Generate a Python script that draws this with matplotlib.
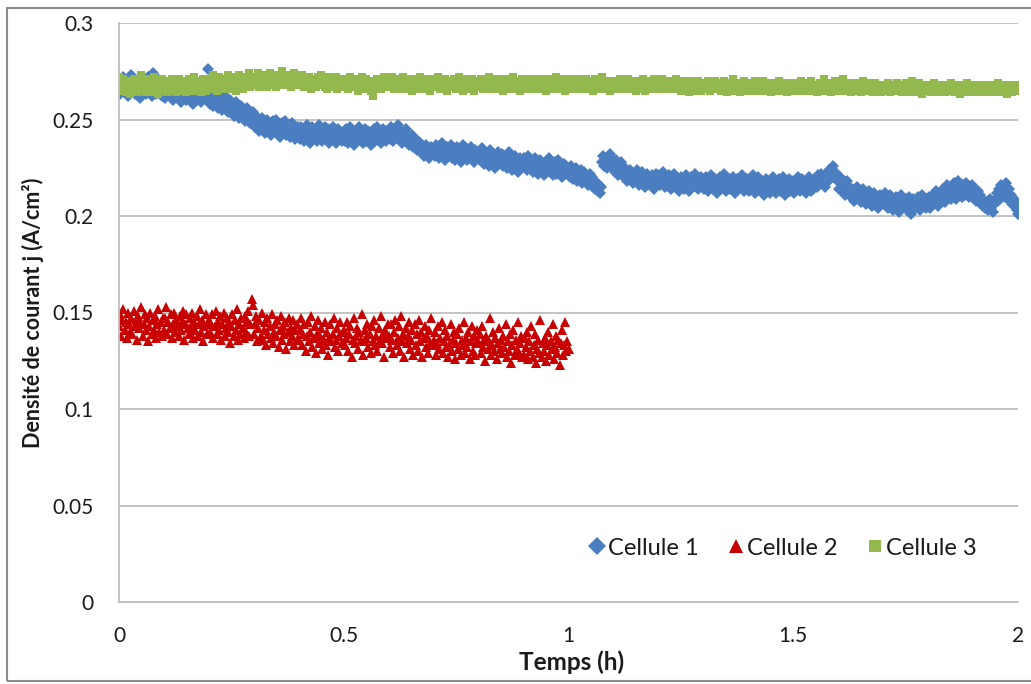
import numpy as np
import matplotlib
matplotlib.use("Agg")
import matplotlib.pyplot as plt
from matplotlib.patches import Rectangle

plt.rcParams['font.family'] = ['Lato', 'DejaVu Sans']

# Sampling step of the logger (h)
DT = 0.0025

# Current density, in mA/cm2, one reading every DT hours (40 readings per 0.1 h row)
cellule_1 = [
    267, 263, 270, 265, 272, 268, 264, 269, 262, 266, 271, 273, 265, 268, 263, 267, 270, 264, 268, 261,
    266, 270, 265, 269, 263, 267, 272, 264, 268, 262, 274, 266, 269, 263, 267, 271, 264, 266, 262, 268,
    265, 261, 268, 263, 266, 270, 262, 264, 260, 267, 263, 265, 269, 261, 264, 259, 266, 262, 268, 263,
    260, 265, 262, 267, 261, 264, 258, 263, 266, 260, 264, 261, 266, 259, 263, 267, 261, 264, 260, 276,
    262, 258, 264, 260, 257, 262, 259, 263, 256, 260, 258, 261, 255, 259, 262, 256, 258, 254, 257, 260,
    254, 257, 252, 256, 259, 253, 255, 251, 254, 257, 251, 254, 249, 253, 256, 250, 252, 248, 251, 254,
    249, 246, 252, 247, 250, 244, 248, 251, 245, 249, 243, 247, 250, 245, 248, 242, 246, 249, 244, 247,
    250, 244, 246, 241, 245, 248, 243, 246, 249, 242, 245, 247, 241, 244, 248, 242, 246, 240, 243, 246,
    244, 240, 246, 242, 245, 239, 243, 247, 241, 244, 238, 242, 246, 240, 243, 245, 239, 242, 247, 241,
    244, 239, 243, 246, 240, 242, 245, 238, 243, 241, 246, 240, 243, 238, 242, 245, 240, 243, 239, 242,
    243, 239, 245, 241, 238, 242, 246, 240, 243, 237, 241, 244, 239, 242, 246, 240, 243, 238, 241, 245,
    239, 242, 244, 240, 237, 243, 241, 245, 239, 242, 246, 240, 243, 238, 242, 245, 240, 244, 239, 241,
    244, 240, 246, 242, 239, 245, 241, 243, 247, 240, 244, 241, 238, 243, 240, 245, 239, 242, 237, 241,
    238, 242, 236, 240, 237, 234, 239, 235, 238, 233, 236, 231, 234, 237, 232, 235, 230, 233, 236, 232,
    235, 231, 237, 233, 236, 230, 234, 238, 232, 235, 229, 233, 236, 231, 234, 237, 230, 233, 235, 229,
    232, 236, 231, 234, 228, 233, 237, 230, 232, 235, 229, 233, 231, 236, 230, 232, 228, 234, 231, 233,
    233, 229, 232, 235, 230, 227, 233, 229, 231, 226, 234, 230, 228, 232, 229, 225, 231, 233, 227, 230,
    228, 232, 226, 229, 231, 225, 228, 233, 227, 230, 224, 228, 231, 226, 229, 223, 227, 230, 225, 228,
    230, 226, 228, 224, 231, 227, 225, 229, 223, 227, 230, 225, 228, 222, 226, 229, 224, 227, 221, 225,
    228, 223, 226, 230, 224, 227, 221, 225, 228, 222, 226, 229, 223, 225, 220, 224, 227, 222, 226, 223,
    224, 220, 226, 222, 219, 223, 221, 225, 218, 222, 220, 224, 217, 221, 223, 218, 220, 216, 219, 222,
    217, 220, 215, 218, 214, 217, 213, 216, 212, 215, 228, 231, 226, 229, 225, 230, 227, 232, 226, 229,
    227, 223, 229, 224, 221, 226, 222, 228, 224, 220, 225, 221, 218, 223, 219, 224, 220, 217, 222, 218,
    221, 224, 219, 216, 220, 223, 218, 221, 215, 219, 222, 217, 220, 216, 221, 218, 214, 219, 222, 217,
    221, 216, 220, 217, 223, 218, 215, 219, 216, 221, 217, 214, 220, 216, 222, 218, 215, 219, 213, 217,
    220, 216, 219, 214, 218, 221, 216, 213, 218, 220, 215, 219, 216, 222, 217, 214, 218, 215, 220, 216,
    218, 214, 220, 216, 213, 219, 215, 221, 217, 214, 219, 216, 212, 218, 215, 220, 214, 217, 222, 216,
    213, 218, 215, 219, 214, 217, 220, 215, 212, 217, 219, 214, 218, 216, 221, 215, 213, 218, 216, 219,
    217, 213, 219, 215, 221, 216, 212, 218, 214, 220, 216, 213, 218, 215, 211, 217, 219, 214, 216, 212,
    218, 215, 220, 214, 217, 212, 216, 219, 213, 217, 215, 220, 214, 211, 217, 215, 219, 213, 216, 218,
    216, 212, 218, 214, 220, 215, 213, 217, 219, 214, 216, 212, 218, 215, 220, 216, 213, 218, 214, 217,
    219, 215, 221, 216, 218, 222, 217, 220, 215, 219, 222, 218, 224, 219, 221, 226, 220, 223, 219, 221,
    218, 214, 220, 216, 213, 217, 211, 215, 218, 212, 215, 210, 214, 212, 208, 213, 211, 215, 209, 212,
    207, 211, 214, 209, 212, 206, 210, 213, 208, 211, 205, 209, 212, 207, 210, 204, 208, 211, 206, 209,
    210, 206, 212, 207, 204, 209, 211, 205, 208, 203, 207, 210, 205, 209, 202, 206, 211, 204, 208, 205,
    209, 203, 207, 210, 205, 201, 206, 209, 204, 208, 205, 210, 206, 203, 208, 211, 205, 207, 204, 209,
    206, 210, 204, 208, 211, 207, 209, 213, 208, 205, 210, 212, 208, 214, 210, 207, 212, 216, 210, 213,
    209, 215, 211, 217, 212, 209, 214, 218, 212, 215, 210, 216, 213, 211, 217, 214, 210, 215, 212, 216,
    214, 210, 212, 208, 213, 209, 211, 206, 209, 205, 208, 204, 207, 203, 206, 209, 204, 207, 202, 206,
    209, 212, 208, 214, 211, 216, 212, 215, 210, 217, 213, 210, 214, 208, 211, 206, 209, 205, 207, 203,
    201,
]

cellule_2 = [
    143, 149, 138, 146, 152, 141, 145, 137, 150, 144, 140, 147, 139, 151, 143, 146, 136, 148, 142, 145,
    153, 138, 144, 149, 141, 147, 135, 143, 150, 139, 146, 141, 148, 137, 144, 152, 140, 145, 138, 147,
    141, 147, 153, 139, 145, 142, 149, 137, 144, 150, 140, 146, 143, 138, 148, 141, 145, 151, 136, 144,
    149, 142, 139, 147, 143, 150, 137, 145, 141, 148, 138, 144, 152, 140, 146, 135, 143, 149, 139, 145,
    146, 140, 144, 149, 137, 143, 151, 139, 145, 141, 148, 136, 144, 150, 138, 142, 147, 140, 145, 134,
    143, 149, 138, 146, 141, 152, 136, 144, 139, 147, 142, 137, 148, 140, 145, 151, 138, 144, 157, 154,
    139, 144, 148, 135, 142, 146, 138, 150, 136, 141, 145, 133, 147, 139, 143, 137, 149, 134, 140, 144,
    138, 146, 132, 141, 148, 136, 143, 139, 145, 131, 140, 147, 135, 142, 138, 146, 133, 141, 144, 137,
    136, 141, 147, 133, 139, 144, 130, 138, 145, 135, 140, 148, 132, 137, 143, 129, 139, 146, 134, 138,
    142, 131, 136, 145, 133, 140, 128, 137, 144, 135, 139, 147, 132, 136, 142, 130, 138, 145, 134, 140,
    141, 133, 137, 145, 130, 139, 143, 127, 136, 147, 134, 138, 142, 131, 140, 136, 149, 128, 135, 141,
    137, 144, 132, 139, 129, 143, 135, 146, 133, 138, 130, 142, 136, 148, 134, 139, 127, 141, 137, 144,
    138, 132, 144, 136, 129, 140, 146, 133, 137, 143, 130, 148, 135, 139, 127, 142, 134, 138, 145, 131,
    136, 141, 128, 144, 133, 139, 130, 146, 135, 140, 127, 137, 143, 132, 138, 129, 141, 134, 147, 133,
    136, 140, 128, 134, 143, 131, 137, 145, 129, 135, 141, 132, 138, 127, 133, 144, 130, 136, 140, 126,
    134, 139, 131, 142, 128, 136, 133, 145, 129, 137, 132, 140, 126, 135, 143, 130, 138, 128, 134, 141,
    134, 139, 129, 143, 132, 136, 125, 138, 131, 135, 147, 128, 133, 140, 130, 137, 126, 134, 142, 131,
    136, 129, 138, 132, 144, 127, 135, 130, 139, 124, 133, 141, 128, 136, 131, 145, 129, 134, 138, 127,
    128, 137, 132, 140, 126, 135, 130, 143, 127, 133, 139, 124, 131, 136, 129, 146, 127, 134, 130, 137,
    125, 133, 140, 128, 135, 131, 144, 126, 132, 138, 129, 136, 123, 134, 141, 128, 133, 145, 130, 135,
    131,
]

cellule_3 = [
    272, 266, 269, 265, 271, 267, 264, 270, 268, 266, 263, 269, 267, 271, 265, 268, 264, 267, 270, 266,
    273, 265, 268, 270, 264, 267, 271, 266, 269, 264, 268, 272, 265, 267, 270, 263, 269, 266, 271, 267,
    265, 269, 267, 264, 270, 268, 266, 271, 265, 268, 267, 264, 269, 271, 266, 268, 265, 270, 267, 269,
    264, 268, 271, 266, 269, 265, 267, 272, 268, 265, 270, 266, 269, 264, 268, 271, 267, 265, 270, 268,
    268, 271, 266, 269, 273, 267, 270, 265, 269, 272, 268, 266, 270, 268, 271, 267, 269, 273, 266, 270,
    272, 267, 269, 271, 265, 270, 268, 273, 267, 270, 266, 271, 269, 272, 268, 270, 274, 267, 271, 269,
    269, 272, 268, 270, 274, 267, 271, 269, 273, 268, 270, 272, 267, 271, 274, 269, 270, 268, 272, 270,
    267, 273, 270, 268, 271, 275, 269, 272, 268, 271, 273, 269, 271, 267, 272, 270, 274, 268, 271, 269,
    271, 268, 270, 273, 269, 267, 271, 270, 268, 272, 269, 266, 270, 268, 271, 267, 269, 272, 268, 270,
    273, 268, 271, 267, 270, 266, 269, 272, 268, 271, 267, 270, 268, 272, 266, 269, 271, 267, 270, 268,
    267, 270, 268, 271, 266, 269, 272, 268, 270, 267, 269, 271, 268, 265, 270, 267, 272, 266, 269, 268,
    271, 267, 270, 268, 265, 269, 262, 266, 270, 268, 271, 267, 269, 266, 270, 268, 272, 267, 269, 270,
    270, 267, 269, 272, 268, 266, 270, 268, 271, 267, 269, 266, 270, 272, 268, 267, 270, 269, 266, 271,
    268, 265, 269, 271, 267, 270, 266, 268, 272, 267, 269, 271, 266, 268, 270, 267, 269, 265, 271, 268,
    268, 270, 267, 269, 272, 268, 266, 270, 268, 269, 271, 267, 265, 269, 268, 270, 267, 269, 271, 268,
    266, 270, 268, 272, 267, 269, 265, 268, 271, 267, 270, 266, 269, 268, 271, 267, 265, 270, 268, 269,
    267, 269, 271, 268, 266, 270, 268, 267, 269, 272, 268, 266, 269, 271, 267, 268, 270, 266, 269, 268,
    271, 267, 265, 269, 270, 268, 266, 271, 267, 269, 268, 272, 266, 269, 267, 270, 268, 265, 269, 271,
    270, 268, 266, 269, 271, 267, 269, 268, 270, 266, 268, 271, 269, 267, 270, 268, 266, 269, 271, 268,
    265, 269, 267, 271, 268, 266, 270, 267, 269, 272, 267, 269, 266, 270, 268, 271, 267, 265, 269, 268,
    267, 269, 271, 268, 266, 270, 268, 269, 267, 271, 268, 266, 269, 270, 267, 268, 271, 269, 266, 268,
    270, 267, 265, 269, 271, 268, 266, 270, 267, 269, 272, 268, 266, 269, 267, 270, 268, 265, 269, 267,
    269, 267, 270, 268, 266, 269, 271, 267, 268, 270, 266, 269, 268, 271, 267, 269, 266, 268, 270, 267,
    265, 268, 270, 267, 269, 266, 271, 268, 265, 269, 267, 270, 268, 266, 269, 267, 271, 268, 266, 269,
    268, 266, 269, 271, 267, 268, 270, 266, 269, 267, 268, 270, 267, 266, 269, 268, 271, 267, 266, 269,
    265, 268, 267, 270, 266, 269, 267, 264, 268, 270, 267, 265, 269, 268, 266, 270, 267, 269, 265, 268,
    267, 269, 266, 268, 270, 267, 265, 269, 268, 266, 270, 267, 268, 266, 269, 267, 265, 268, 270, 266,
    268, 264, 267, 269, 266, 268, 271, 267, 265, 268, 266, 269, 267, 264, 268, 266, 270, 267, 265, 268,
    268, 266, 269, 267, 265, 268, 270, 266, 267, 269, 265, 268, 266, 270, 267, 265, 268, 266, 269, 267,
    264, 267, 269, 266, 268, 265, 267, 270, 266, 268, 265, 267, 269, 266, 264, 268, 266, 269, 267, 265,
    266, 268, 265, 267, 269, 266, 268, 270, 265, 267, 266, 269, 267, 265, 268, 266, 270, 267, 265, 268,
    267, 264, 268, 266, 269, 265, 267, 271, 266, 268, 265, 267, 269, 266, 264, 268, 266, 270, 267, 265,
    267, 265, 268, 266, 271, 267, 265, 268, 266, 269, 267, 264, 268, 266, 267, 269, 265, 267, 266, 268,
    264, 267, 270, 266, 268, 265, 267, 269, 265, 268, 266, 264, 267, 269, 266, 268, 265, 267, 264, 266,
    266, 268, 265, 267, 269, 266, 264, 268, 267, 265, 268, 266, 269, 265, 267, 266, 268, 264, 267, 266,
    269, 265, 267, 264, 268, 266, 270, 265, 267, 268, 264, 266, 269, 265, 267, 263, 268, 266, 265, 267,
    265, 268, 266, 264, 267, 269, 265, 267, 266, 268, 264, 267, 265, 268, 266, 264, 267, 265, 268, 266,
    269, 265, 267, 264, 266, 268, 265, 267, 263, 266, 268, 265, 267, 264, 266, 269, 265, 267, 264, 266,
    267, 265, 268, 266, 264, 267, 265, 268, 266, 264, 267, 265, 268, 266, 267, 264, 266, 268, 265, 267,
    264, 266, 269, 265, 267, 264, 268, 266, 265, 267, 263, 266, 268, 265, 267, 264, 266, 268, 265, 266,
    265,
]

series_labels = ["Cellule 1", "Cellule 2", "Cellule 3"]
x_ticks = [0, 0.5, 1, 1.5, 2]
x_tick_labels = ["0", "0.5", "1", "1.5", "2"]
y_ticks = [0, 0.05, 0.1, 0.15, 0.2, 0.25, 0.3]
y_tick_labels = ["0", "0.05", "0.1", "0.15", "0.2", "0.25", "0.3"]

styles = [
    dict(marker="D", color="#4A7EC0", ms=5.8, legend_ms=9.0),
    dict(marker="^", color="#C80000", ms=6.8, legend_ms=10.5),
    dict(marker="s", color="#93B84E", ms=5.8, legend_ms=8.5),
]

W, H = 1031, 684
fig = plt.figure(figsize=(W / 100, H / 100), dpi=100)
fig.patch.set_facecolor("white")

# Chart-area frame
fig.add_artist(Rectangle((7 / W, 1 - 681 / H), 1.0, 673 / H, transform=fig.transFigure,
                         fill=False, edgecolor="#8C8C8C", lw=1.5))

ax = fig.add_axes([119 / W, 1 - 602 / H, 899 / W, 579 / H])

for vals, lab, st in zip([cellule_1, cellule_2, cellule_3], series_labels, styles):
    j = np.asarray(vals) / 1000.0          # mA/cm2 -> A/cm2
    t = np.arange(len(j)) * DT
    ax.plot(t, j, linestyle="none", marker=st["marker"], color=st["color"],
            markersize=st["ms"], markeredgewidth=0, label=lab)

ax.set_xlim(0, 2)
ax.set_ylim(0, 0.3)
ax.set_xticks(x_ticks)
ax.set_xticklabels(x_tick_labels)
ax.set_yticks(y_ticks)
ax.set_yticklabels(y_tick_labels)
ax.tick_params(axis="both", length=0, labelsize=15, colors="#1A1A1A")
ax.tick_params(axis="y", pad=18.5)
ax.tick_params(axis="x", pad=17)

ax.yaxis.grid(True, color="#BEBEBE", lw=1.3)
ax.set_axisbelow(True)
for side in ("top", "right"):
    ax.spines[side].set_visible(False)
for side in ("left", "bottom"):
    ax.spines[side].set_color("#BEBEBE")
    ax.spines[side].set_linewidth(1.3)

ax.set_xlabel("Temps (h)", fontsize=17.5, fontweight="bold", color="#1A1A1A")
ax.xaxis.set_label_coords((572 - 119) / 899, -(662 - 602) / 579)
ax.xaxis.label.set_va("center")
ax.set_ylabel("Densité de courant j (A/cm²)", fontsize=15.5, fontweight="bold", color="#1A1A1A")
ax.yaxis.set_label_coords(-(119 - 33) / 899, 0.5)
ax.yaxis.label.set_va("center")

leg = ax.legend(loc="center", bbox_to_anchor=(0.739, 0.093), ncol=3, frameon=False,
                fontsize=17, handlelength=0.6, handletextpad=0.2,
                columnspacing=1.25, borderpad=0)
for handle, st in zip(leg.legend_handles, styles):
    handle.set_markersize(st["legend_ms"])
for txt in leg.get_texts():
    txt.set_color("#1A1A1A")

fig.savefig("out.png", dpi=100)
